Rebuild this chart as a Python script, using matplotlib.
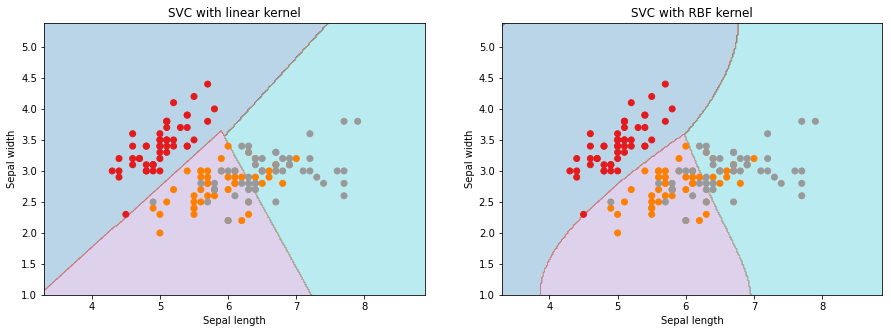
import numpy as np
import matplotlib.pyplot as plt

# iris data (older version), first two features
sepal_length = [
    5.1, 4.9, 4.7, 4.6, 5.0, 5.4, 4.6, 5.0, 4.4, 4.9, 5.4, 4.8, 4.8, 4.3, 5.8, 5.7, 5.4, 5.1, 5.7, 5.1,
    5.4, 5.1, 4.6, 5.1, 4.8, 5.0, 5.0, 5.2, 5.2, 4.7, 4.8, 5.4, 5.2, 5.5, 4.9, 5.0, 5.5, 4.9, 4.4, 5.1,
    5.0, 4.5, 4.4, 5.0, 5.1, 4.8, 5.1, 4.6, 5.3, 5.0,
    7.0, 6.4, 6.9, 5.5, 6.5, 5.7, 6.3, 4.9, 6.6, 5.2, 5.0, 5.9, 6.0, 6.1, 5.6, 6.7, 5.6, 5.8, 6.2, 5.6,
    5.9, 6.1, 6.3, 6.1, 6.4, 6.6, 6.8, 6.7, 6.0, 5.7, 5.5, 5.5, 5.8, 6.0, 5.4, 6.0, 6.7, 6.3, 5.6, 5.5,
    5.5, 6.1, 5.8, 5.0, 5.6, 5.7, 5.7, 6.2, 5.1, 5.7,
    6.3, 5.8, 7.1, 6.3, 6.5, 7.6, 4.9, 7.3, 6.7, 7.2, 6.5, 6.4, 6.8, 5.7, 5.8, 6.4, 6.5, 7.7, 7.7, 6.0,
    6.9, 5.6, 7.7, 6.3, 6.7, 7.2, 6.2, 6.1, 6.4, 7.2, 7.4, 7.9, 6.4, 6.3, 6.1, 7.7, 6.3, 6.4, 6.0, 6.9,
    6.7, 6.9, 5.8, 6.8, 6.7, 6.7, 6.3, 6.5, 6.2, 5.9,
]
sepal_width = [
    3.5, 3.0, 3.2, 3.1, 3.6, 3.9, 3.4, 3.4, 2.9, 3.1, 3.7, 3.4, 3.0, 3.0, 4.0, 4.4, 3.9, 3.5, 3.8, 3.8,
    3.4, 3.7, 3.6, 3.3, 3.4, 3.0, 3.4, 3.5, 3.4, 3.2, 3.1, 3.4, 4.1, 4.2, 3.1, 3.2, 3.5, 3.1, 3.0, 3.4,
    3.5, 2.3, 3.2, 3.5, 3.8, 3.0, 3.8, 3.2, 3.7, 3.3,
    3.2, 3.2, 3.1, 2.3, 2.8, 2.8, 3.3, 2.4, 2.9, 2.7, 2.0, 3.0, 2.2, 2.9, 2.9, 3.1, 3.0, 2.7, 2.2, 2.5,
    3.2, 2.8, 2.5, 2.8, 2.9, 3.0, 2.8, 3.0, 2.9, 2.6, 2.4, 2.4, 2.7, 2.7, 3.0, 3.4, 3.1, 2.3, 3.0, 2.5,
    2.6, 3.0, 2.6, 2.3, 2.7, 3.0, 2.9, 2.9, 2.5, 2.8,
    3.3, 2.7, 3.0, 2.9, 3.0, 3.0, 2.5, 2.9, 2.5, 3.6, 3.2, 2.7, 3.0, 2.5, 2.8, 3.2, 3.0, 3.8, 2.6, 2.2,
    3.2, 2.8, 2.8, 2.7, 3.3, 3.2, 2.8, 3.0, 2.8, 3.0, 2.8, 3.8, 2.8, 2.8, 2.6, 3.0, 3.4, 3.1, 3.0, 3.1,
    3.1, 3.1, 2.7, 3.2, 3.3, 3.0, 2.5, 3.0, 3.4, 3.0,
]
species = [0] * 50 + [1] * 50 + [2] * 50

titles = ['SVC with linear kernel', 'SVC with RBF kernel']
kernels = ['linear', 'rbf']
C = 1.0
gamma = 0.5  # 'auto' = 1 / n_features
h = 0.02

X = np.column_stack([sepal_length, sepal_width])
y = np.array(species)


def kernel(A, B, kind):
    if kind == 'linear':
        return A @ B.T
    d = (A ** 2).sum(1)[:, None] + (B ** 2).sum(1)[None, :] - 2 * A @ B.T
    return np.exp(-gamma * d)


def snap(v, C):
    v = min(max(v, 0.0), C)
    if v < 1e-10:
        return 0.0
    if v > C - 1e-10:
        return C
    return v


def smo(K, t, C, tol=1e-3, max_iter=300000):
    # simple SMO with max violating pair selection (like libsvm)
    n = len(t)
    a = np.zeros(n)
    F = np.zeros(n)
    for _ in range(max_iter):
        v = t - F
        up = ((t > 0) & (a < C)) | ((t < 0) & (a > 0))
        low = ((t > 0) & (a > 0)) | ((t < 0) & (a < C))
        i = np.where(up)[0][np.argmax(v[up])]
        j = np.where(low)[0][np.argmin(v[low])]
        if v[i] - v[j] < tol:
            break
        eta = max(K[i, i] + K[j, j] - 2 * K[i, j], 1e-12)
        aj = a[j] + t[j] * (v[j] - v[i]) / eta
        if t[i] != t[j]:
            L, H = max(0, a[j] - a[i]), min(C, C + a[j] - a[i])
        else:
            L, H = max(0, a[i] + a[j] - C), min(C, a[i] + a[j])
        aj = snap(min(max(aj, L), H), C)
        ai = snap(a[i] + t[i] * t[j] * (a[j] - aj), C)
        F += (ai - a[i]) * t[i] * K[:, i] + (aj - a[j]) * t[j] * K[:, j]
        a[i], a[j] = ai, aj
    v = t - F
    free = (a > 0) & (a < C)
    if free.any():
        b = v[free].mean()
    else:
        up = ((t > 0) & (a < C)) | ((t < 0) & (a > 0))
        low = ((t > 0) & (a > 0)) | ((t < 0) & (a < C))
        b = (v[up].max() + v[low].min()) / 2
    return a, b


def predict(kind, P):
    # one-vs-one voting
    votes = np.zeros((len(P), 3))
    for p, q in [(0, 1), (0, 2), (1, 2)]:
        m = (y == p) | (y == q)
        Xs = X[m]
        t = np.where(y[m] == p, 1.0, -1.0)
        a, b = smo(kernel(Xs, Xs, kind), t, C)
        f = kernel(P, Xs, kind) @ (a * t) + b
        votes[:, p] += f > 0
        votes[:, q] += f <= 0
    return np.argmax(votes, axis=1)


x_min, x_max = X[:, 0].min() - 1, X[:, 0].max() + 1
y_min, y_max = X[:, 1].min() - 1, X[:, 1].max() + 1
xx, yy = np.meshgrid(np.arange(x_min, x_max, h), np.arange(y_min, y_max, h))
grid = np.c_[xx.ravel(), yy.ravel()]

W, Hh = 891, 333
fig = plt.figure(figsize=(W / 72, Hh / 72), dpi=72)
lefts = [44, 501.7]
for k, kind in enumerate(kernels):
    ax = fig.add_axes([lefts[k] / W, (Hh - 295) / Hh, 380.5 / W, (295 - 23.3) / Hh])
    Z = predict(kind, grid).reshape(xx.shape)
    ax.contourf(xx, yy, Z, cmap=plt.cm.tab10, alpha=0.3)
    ax.scatter(X[:, 0], X[:, 1], c=y, cmap=plt.cm.Set1)
    ax.set_xlim(xx.min(), xx.max())
    ax.set_ylim(yy.min(), yy.max())
    ax.set_xlabel('Sepal length')
    ax.set_ylabel('Sepal width')
    ax.set_title(titles[k])

plt.savefig('out.png', dpi=72)
